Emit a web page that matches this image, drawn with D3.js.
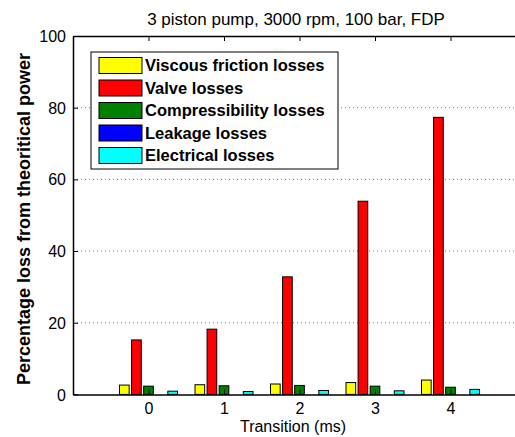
<!DOCTYPE html>
<html><head><meta charset="utf-8">
<script src="https://cdn.jsdelivr.net/npm/d3@7"></script>
<style>body{margin:0;background:#fff}svg{display:block}text{font-family:"Liberation Sans",Arial,sans-serif}</style>
</head><body>
<script>
const categories = [0, 1, 2, 3, 4];
const seriesNames = ["Viscous friction losses","Valve losses","Compressibility losses","Leakage losses","Electrical losses"];
const seriesColors = ["#ffff00","#ff0000","#008000","#0000ff","#00ffff"];
const viscous = [2.6, 2.7, 2.9, 3.3, 4.0];
const valve = [15.2, 18.2, 32.8, 53.9, 77.3];
const compress = [2.3, 2.4, 2.5, 2.3, 2.0];
const leakage = [0, 0, 0, 0, 0];
const electrical = [0.9, 0.8, 1.1, 1.0, 1.4];
const yTicks = [0, 20, 40, 60, 80, 100];
const series = [viscous, valve, compress, leakage, electrical];

const W = 515, H = 437;
const svg = d3.select("body").append("svg").attr("width", W).attr("height", H);
const m = {left: 73, top: 36, bottom: 394.4};
const x = d3.scaleLinear().domain([-1, 5]).range([m.left, m.left + 6*75.5]);
const y = d3.scaleLinear().domain([0, 100]).range([m.bottom, m.top]);
const right = x(5);

// grid
svg.append("g").selectAll("line").data(yTicks.filter(t => t > 0 && t < 100)).join("line")
  .attr("x1", m.left).attr("x2", right).attr("y1", d => y(d)).attr("y2", d => y(d))
  .attr("stroke", "#777").attr("stroke-width", 1).attr("stroke-dasharray", "1,3");

// bars
const groupW = 0.8, n = series.length, step = groupW / n, bw = step * 0.8;
series.forEach((vals, si) => {
  svg.append("g").selectAll("rect").data(categories).join("rect")
    .attr("x", (c, i) => x(c - groupW/2 + step*si + (step-bw)/2))
    .attr("width", x(bw) - x(0))
    .attr("y", (c, i) => y(vals[i]))
    .attr("height", (c, i) => y(0) - y(vals[i]))
    .attr("fill", seriesColors[si]).attr("stroke", "#000").attr("stroke-width", 1);
});

// axes
const yAxis = d3.axisLeft(y).tickValues(yTicks).tickSizeInner(-5).tickSizeOuter(0).tickPadding(7);
const gy = svg.append("g").attr("transform", `translate(${m.left},0)`).call(yAxis);
gy.selectAll("text").attr("font-size", 16).attr("fill", "#000").attr("dy", "0.35em");
gy.select(".domain").attr("stroke-width", 1.5);

const xAxis = d3.axisBottom(x).tickValues(categories).tickSizeInner(-5).tickSizeOuter(0).tickPadding(8).tickFormat(d3.format("d"));
const gx = svg.append("g").attr("transform", `translate(0,${m.bottom})`).call(xAxis);
gx.selectAll("text").attr("font-size", 16).attr("fill", "#000");
gx.select(".domain").attr("stroke-width", 1.5);

const xTop = d3.axisTop(x).tickValues(categories).tickSizeInner(-5).tickSizeOuter(0).tickFormat("");
const gt = svg.append("g").attr("transform", `translate(0,${m.top})`).call(xTop);
gt.select(".domain").attr("stroke-width", 1.5);

// legend
const lg = svg.append("g");
lg.append("rect").attr("x", 91).attr("y", 52).attr("width", 247).attr("height", 117)
  .attr("fill", "#fff").attr("stroke", "#000").attr("stroke-width", 1);
seriesNames.forEach((nm, i) => {
  const ry = 57.5 + i * 22.5;
  lg.append("rect").attr("x", 99).attr("y", ry).attr("width", 43).attr("height", 16)
    .attr("fill", seriesColors[i]).attr("stroke", "#000").attr("stroke-width", 1);
  lg.append("text").attr("x", 145).attr("y", ry + 13.5).attr("font-size", 16.5).attr("font-weight", "bold")
    .attr("fill", "#000").text(nm);
});

// titles
svg.append("text").attr("x", 296).attr("y", 25).attr("text-anchor", "middle").attr("font-size", 17)
  .attr("fill", "#000").text("3 piston pump, 3000 rpm, 100 bar, FDP");
svg.append("text").attr("x", 293).attr("y", 432).attr("text-anchor", "middle").attr("font-size", 16)
  .attr("fill", "#000").text("Transition (ms)");
svg.append("text").attr("transform", "translate(29.5,219) rotate(-90)").attr("text-anchor", "middle")
  .attr("font-size", 18).attr("font-weight", "bold").attr("fill", "#000")
  .text("Percentage loss from theoritical power");
</script>
</body></html>
